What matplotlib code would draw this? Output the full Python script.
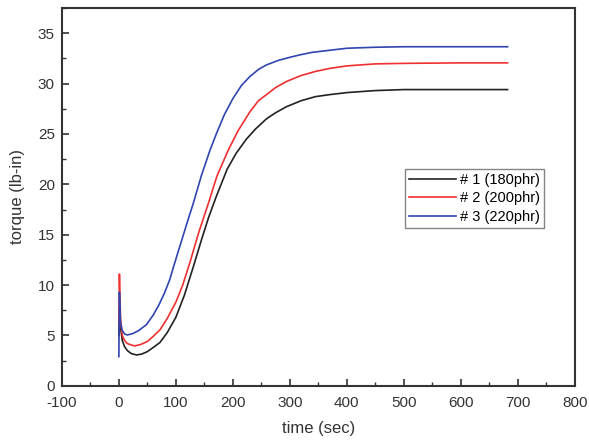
import matplotlib
matplotlib.use("Agg")
import matplotlib.pyplot as plt
from matplotlib.ticker import MultipleLocator

# torque curves (time in sec, torque in lb-in)
t1 = [0, 1, 3, 6, 10, 15, 22, 31, 40, 50, 60, 72, 85, 100, 115, 130, 145, 158, 171,
      190, 206, 224, 240, 259, 275, 294, 320, 345, 370, 400, 450, 500, 600, 682]
v1 = [5.0, 7.8, 5.8, 4.5, 3.9, 3.5, 3.2, 3.07, 3.15, 3.4, 3.8, 4.3, 5.3, 6.8, 9.0, 11.7,
      14.5, 16.8, 18.8, 21.5, 23.1, 24.5, 25.5, 26.5, 27.1, 27.7, 28.3, 28.7, 28.9, 29.1,
      29.3, 29.4, 29.4, 29.4]

t2 = [0, 1, 3, 6, 10, 15, 22, 28, 38, 50, 60, 72, 85, 100, 112, 125, 140, 157, 172,
      192, 209, 230, 245, 259, 275, 294, 320, 345, 370, 400, 450, 500, 600, 682]
v2 = [6.0, 11.1, 6.6, 5.0, 4.5, 4.2, 4.05, 3.97, 4.1, 4.4, 4.9, 5.55, 6.7, 8.3, 10.0,
      12.3, 15.2, 18.1, 20.8, 23.4, 25.3, 27.2, 28.3, 28.9, 29.6, 30.2, 30.8, 31.2, 31.5,
      31.75, 31.95, 32.0, 32.05, 32.05]

t3 = [0, 1, 3, 6, 10, 15, 25, 35, 48, 60, 70, 80, 89, 98, 110, 122, 130, 145, 160, 171,
      185, 200, 215, 230, 245, 259, 280, 300, 318, 340, 370, 400, 450, 500, 600, 682]
v3 = [2.9, 9.3, 6.2, 5.5, 5.15, 5.05, 5.2, 5.5, 6.05, 7.0, 8.0, 9.2, 10.5, 12.2, 14.4,
      16.6, 18.0, 20.9, 23.4, 25.0, 26.9, 28.5, 29.8, 30.7, 31.4, 31.85, 32.3, 32.6, 32.85,
      33.1, 33.3, 33.5, 33.6, 33.65, 33.65, 33.65]

labels = ["# 1 (180phr)", "# 2 (200phr)", "# 3 (220phr)"]
colors = ["#222222", "#f03030", "#3045b0"]

plt.rcParams["font.family"] = ["Liberation Sans", "DejaVu Sans"]
plt.rcParams["axes.unicode_minus"] = False

fig = plt.figure(figsize=(5.89, 4.41), dpi=100)
ax = fig.add_axes([0.105, 0.125, 0.871, 0.857])

for t, v, lab, c in zip([t1, t2, t3], [v1, v2, v3], labels, colors):
    ax.plot(t, v, color=c, lw=1.2, label=lab)

ax.set_xlim(-100, 800)
ax.set_ylim(0, 37.5)
ax.xaxis.set_major_locator(MultipleLocator(100))
ax.xaxis.set_minor_locator(MultipleLocator(50))
ax.yaxis.set_major_locator(MultipleLocator(5))
ax.yaxis.set_minor_locator(MultipleLocator(2.5))
ax.tick_params(which="both", direction="in", colors="#333333", labelsize=11)
ax.tick_params(which="major", length=5, width=1.2)
ax.tick_params(which="minor", length=3, width=1.0)
ax.tick_params(axis="x", pad=7)
ax.tick_params(axis="y", pad=5)
for s in ax.spines.values():
    s.set_linewidth(1.5)
    s.set_color("#333333")

ax.set_xlabel("time (sec)", fontsize=12, color="#333333", labelpad=8)
ax.set_ylabel("torque (lb-in)", fontsize=12, color="#333333", labelpad=9)

leg = ax.legend(loc="upper left", bbox_to_anchor=(0.668, 0.575), fontsize=10.5,
                fancybox=False, handlelength=3.2, handletextpad=0.3,
                borderpad=0.3, labelspacing=0.3, borderaxespad=0)
leg.get_frame().set_edgecolor("#666666")
leg.get_frame().set_linewidth(1.0)

fig.savefig("out.png", dpi=100)
